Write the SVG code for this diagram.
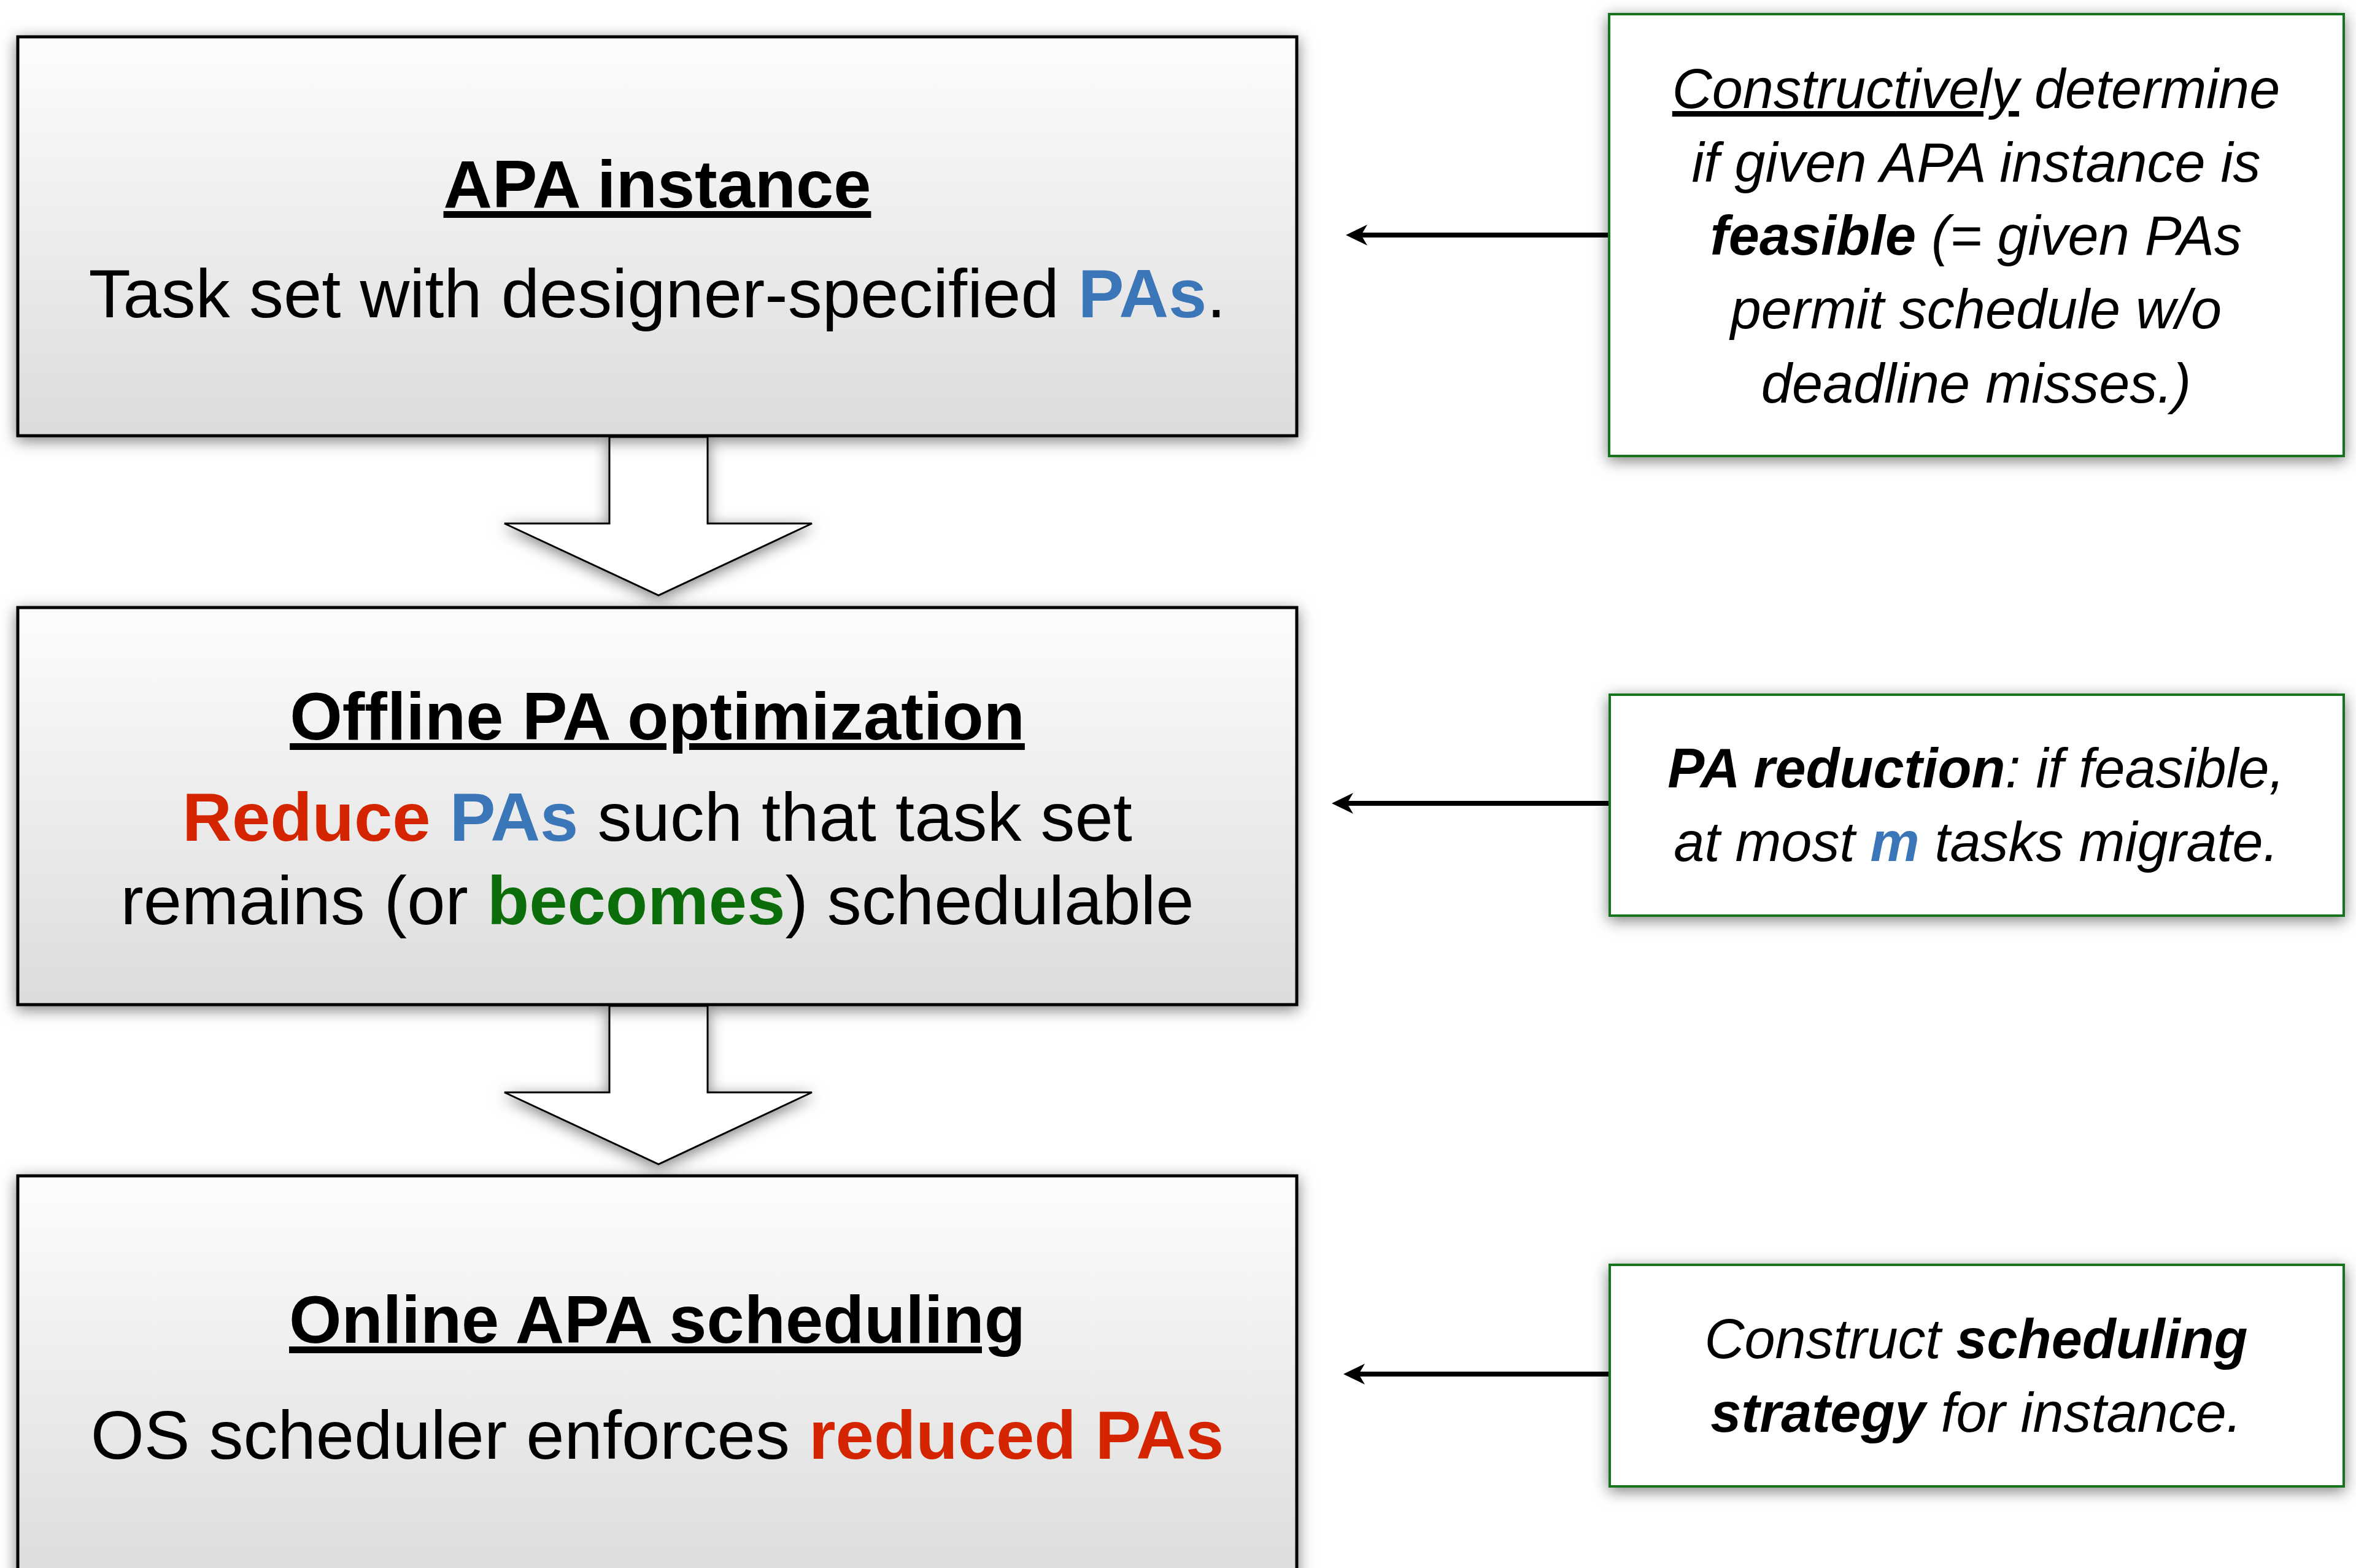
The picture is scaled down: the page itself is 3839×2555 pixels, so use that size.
<svg xmlns="http://www.w3.org/2000/svg" width="3839" height="2555" viewBox="0 0 3839 2555">
  <style>
    text { font-family: "Liberation Sans", Arial, "Helvetica Neue", sans-serif; fill: #000; }
    .title { font-size: 110px; font-weight: bold; text-anchor: middle; text-decoration: underline; }
    .body { font-size: 112px; text-anchor: middle; }
    .note { font-size: 90px; font-style: italic; text-anchor: middle; }
    .b { font-weight: bold; }
    .blue { fill: #3b76b9; }
    .red { fill: #d52400; }
    .green { fill: #0b6e0b; }
    .stage { fill: url(#stageFill); stroke: #000; stroke-width: 5; }
    .aside { fill: #fff; stroke: #12741a; stroke-width: 4; }
    .block { fill: #fff; stroke: #000; stroke-width: 3; stroke-linejoin: miter; }
    .link { stroke: #000; stroke-width: 8; fill: none; marker-end: url(#head); }
  </style>
  <defs>
    <linearGradient id="stageFill" x1="0" y1="0" x2="0" y2="1">
      <stop offset="0" stop-color="#fdfdfd"/>
      <stop offset="1" stop-color="#dcdcdc"/>
    </linearGradient>
    <filter id="shadow" x="-6%" y="-12%" width="112%" height="124%">
      <feDropShadow dx="0" dy="6" stdDeviation="12" flood-color="#000" flood-opacity="0.5"/>
    </filter>
    <marker id="head" markerUnits="userSpaceOnUse" viewBox="-12 -19 40 38" refX="0" refY="0" markerWidth="40" markerHeight="38" orient="auto">
      <path d="M25,0 L-10,-17 L0,0 L-10,17 Z" fill="#000"/>
    </marker>
  </defs>

  <rect width="3839" height="2555" fill="#fff"/>

  <!-- connectors: block arrows between stages, side arrows from the notes -->
  <g id="connectors">
    <polygon class="block" filter="url(#shadow)" points="993,712 1153,712 1153,853 1323,853 1073,970 822,853 993,853"/>
    <polygon class="block" filter="url(#shadow)" points="993,1639 1153,1639 1153,1780 1323,1780 1073,1897 822,1780 993,1780"/>
    <line class="link" x1="2622" y1="383" x2="2218" y2="383"/>
    <line class="link" x1="2623" y1="1309" x2="2195" y2="1309"/>
    <line class="link" x1="2623" y1="2239" x2="2214" y2="2239"/>
  </g>

  <!-- stage 1 -->
  <g id="apa-instance">
    <rect class="stage" filter="url(#shadow)" x="29" y="60" width="2084" height="650"/>
    <text class="title" x="1071" y="338">APA instance</text>
    <text class="body" x="1071" y="517">Task set with designer-specified <tspan class="b blue">PAs</tspan>.</text>
  </g>

  <!-- stage 2 -->
  <g id="offline-optimization">
    <rect class="stage" filter="url(#shadow)" x="29" y="990" width="2084" height="647"/>
    <text class="title" x="1071" y="1205">Offline PA optimization</text>
    <text class="body" x="1071" y="1370"><tspan class="b red">Reduce</tspan> <tspan class="b blue">PAs</tspan> such that task set</text>
    <text class="body" x="1071" y="1506">remains (or <tspan class="b green">becomes</tspan>) schedulable</text>
  </g>

  <!-- stage 3 -->
  <g id="online-scheduling">
    <rect class="stage" filter="url(#shadow)" x="29" y="1916" width="2084" height="660"/>
    <text class="title" x="1071" y="2188">Online APA scheduling</text>
    <text class="body" x="1071" y="2377">OS scheduler enforces <tspan class="b red">reduced PAs</tspan></text>
  </g>

  <!-- side notes -->
  <g id="note-feasibility">
    <rect class="aside" filter="url(#shadow)" x="2622" y="23" width="1197" height="720"/>
    <text class="note" x="3220" y="176"><tspan text-decoration="underline">Constructively</tspan> determine</text>
    <text class="note" x="3220" y="296">if given APA instance is</text>
    <text class="note" x="3220" y="415"><tspan class="b">feasible</tspan> (= given PAs</text>
    <text class="note" x="3220" y="535">permit schedule w/o</text>
    <text class="note" x="3220" y="656">deadline misses.)</text>
  </g>

  <g id="note-reduction">
    <rect class="aside" filter="url(#shadow)" x="2623" y="1132" width="1196" height="360"/>
    <text class="note" x="3220" y="1283"><tspan class="b">PA reduction</tspan>: if feasible,</text>
    <text class="note" x="3220" y="1403">at most <tspan class="b blue">m</tspan> tasks migrate.</text>
  </g>

  <g id="note-strategy">
    <rect class="aside" filter="url(#shadow)" x="2623" y="2061" width="1196" height="361"/>
    <text class="note" x="3220" y="2213">Construct <tspan class="b">scheduling</tspan></text>
    <text class="note" x="3220" y="2333"><tspan class="b">strategy</tspan> for instance.</text>
  </g>
</svg>
